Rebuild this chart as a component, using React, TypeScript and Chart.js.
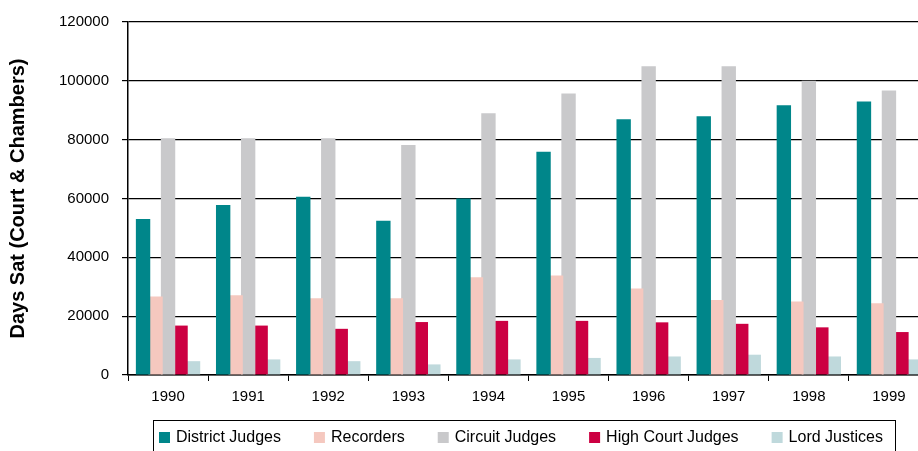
import React, { useEffect, useRef } from "react";
import { Chart, registerables } from "chart.js";

Chart.register(...registerables);

const years = ["1990", "1991", "1992", "1993", "1994", "1995", "1996", "1997", "1998", "1999"];
const districtJudges = [53000, 57800, 60600, 52400, 60000, 75900, 86900, 88000, 91700, 93000];
const recorders = [26700, 27100, 26100, 26100, 33200, 33800, 29400, 25500, 25000, 24400];
const circuitJudges = [80500, 80500, 80500, 78200, 89000, 95700, 105000, 105000, 100000, 96700];
const highCourtJudges = [16800, 16800, 15700, 18000, 18400, 18400, 17900, 17400, 16200, 14600];
const lordJustices = [4700, 5300, 4700, 3600, 5300, 5800, 6300, 6900, 6300, 5300];

const seriesNames = ["District Judges", "Recorders", "Circuit Judges", "High Court Judges", "Lord Justices"];
const seriesColors = ["#00868A", "#F5C8BF", "#C9C9CB", "#CC0042", "#BFD9DC"];
const yTicks = [0, 20000, 40000, 60000, 80000, 100000, 120000];

const FONT = "'Liberation Sans', Arial, sans-serif";

const boxLegend = {
  id: "boxLegend",
  afterDraw(chart: any) {
    const ctx = chart.ctx;
    const h = chart.height;
    const left = 153.5;
    const right = 895.5;
    const top = 420.5;
    ctx.save();
    ctx.strokeStyle = "#000";
    ctx.lineWidth = 1;
    ctx.strokeRect(left, top, right - left, h - top + 10);
    ctx.font = `16px ${FONT}`;
    ctx.textBaseline = "middle";
    ctx.textAlign = "left";
    let x = 159;
    const cy = 437.5;
    chart.data.datasets.forEach((ds: any) => {
      ctx.fillStyle = ds.backgroundColor;
      ctx.fillRect(x, cy - 5.5, 11, 11);
      ctx.fillStyle = "#000";
      ctx.fillText(ds.label, x + 17, cy);
      x += 17 + ctx.measureText(ds.label).width + 33;
    });
    ctx.restore();
  },
};

export default function App() {
  const ref = useRef<HTMLCanvasElement | null>(null);

  useEffect(() => {
    if (!ref.current) return;
    const values = [districtJudges, recorders, circuitJudges, highCourtJudges, lordJustices];
    const chart = new Chart(ref.current, {
      type: "bar",
      data: {
        labels: years,
        datasets: seriesNames.map((name, i) => ({
          label: name,
          data: values[i],
          backgroundColor: seriesColors[i],
          borderWidth: 0,
          categoryPercentage: 0.78,
          barPercentage: 1.15,
        })),
      },
      options: {
        animation: false,
        responsive: true,
        maintainAspectRatio: false,
        layout: { padding: { top: 20, left: 0, right: 0, bottom: 0 } },
        plugins: {
          legend: { display: false },
          tooltip: { enabled: false },
        },
        scales: {
          x: {
            offset: true,
            grid: { offset: true, drawOnChartArea: false, drawTicks: true, tickLength: 6, color: "#000", lineWidth: 1 },
            border: { color: "#000", width: 1.5 },
            ticks: { color: "#000", font: { family: FONT, size: 15 }, padding: 7, maxRotation: 0, autoSkip: false },
            afterFit: (s: any) => {
              s.height = 76;
            },
          },
          y: {
            min: 0,
            max: 120000,
            afterBuildTicks: (s: any) => {
              s.ticks = yTicks.map((v) => ({ value: v }));
            },
            grid: { color: "#000", lineWidth: 1.2, tickLength: 6 },
            border: { color: "#000", width: 1.5 },
            ticks: {
              color: "#000",
              font: { family: FONT, size: 15 },
              padding: 13,
              callback: (v: any) => String(v),
            },
            title: {
              display: true,
              text: "Days Sat (Court & Chambers)",
              color: "#000",
              font: { family: FONT, size: 20, weight: "bold" },
              padding: { top: 6, bottom: 0 },
            },
            afterFit: (s: any) => {
              s.width = 128;
            },
          },
        },
      },
      plugins: [boxLegend],
    });
    return () => chart.destroy();
  }, []);

  return (
    <div style={{ position: "fixed", left: 0, top: 0, width: 918, height: 451, overflow: "hidden", background: "#fff" }}>
      <div style={{ position: "relative", width: 929, height: 451 }}>
        <canvas ref={ref} />
      </div>
    </div>
  );
}
